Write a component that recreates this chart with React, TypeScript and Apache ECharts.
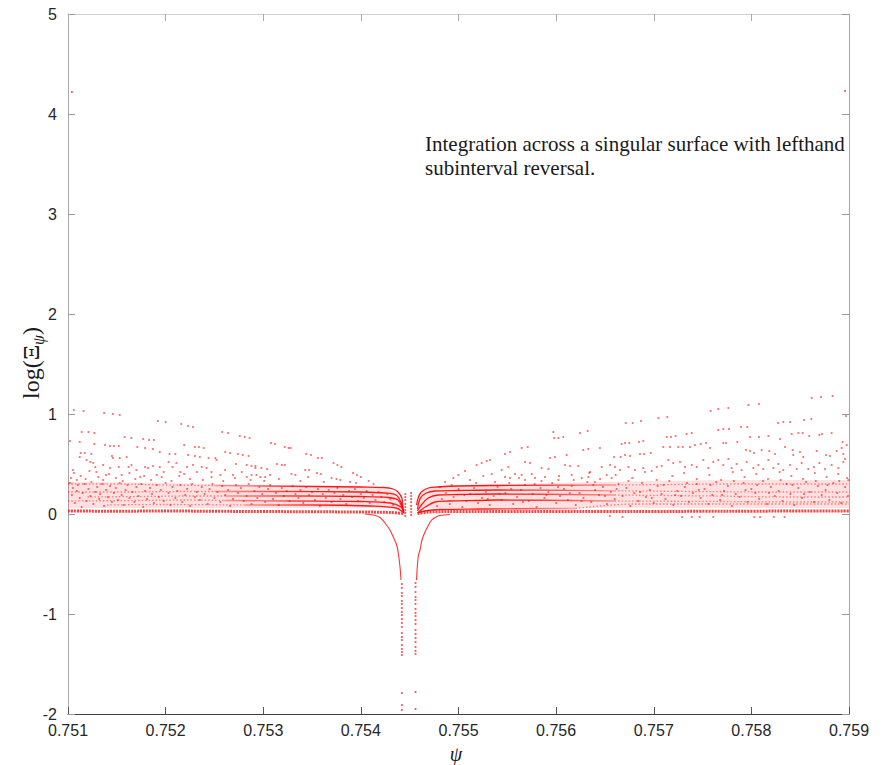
import React, { useEffect, useRef } from "react";
import * as echarts from "echarts";

const X_MIN = 0.751;
const X_MAX = 0.759;
const X_STEP = 0.001;
const Y_MIN = -2;
const Y_MAX = 5;
const Y_STEP = 1;

type P = [number, number];

// isolated high points
const highPoints: P[] = [[0.75104, 4.22], [0.75896, 4.23]];

// left sparse upper points (rays and scatter)
const leftUpper: P[] = [
  [0.75106, 1.04], [0.75116, 1.03], [0.75137, 1.01], [0.75146, 1.0], [0.75153, 0.99],
  [0.75192, 0.93], [0.752, 0.92], [0.75216, 0.9], [0.75223, 0.88], [0.75228, 0.87],
  [0.75258, 0.82], [0.75264, 0.81], [0.75276, 0.78], [0.75281, 0.77], [0.75286, 0.76],
  [0.75102, 0.73], [0.75114, 0.82], [0.75121, 0.82], [0.75127, 0.81], [0.75112, 0.72],
  [0.75127, 0.7], [0.75138, 0.69], [0.75143, 0.68], [0.75147, 0.68], [0.75152, 0.68],
  [0.75158, 0.77], [0.75165, 0.76], [0.75177, 0.75], [0.75183, 0.74], [0.75188, 0.74],
  [0.75171, 0.67], [0.75179, 0.66], [0.75187, 0.65], [0.75194, 0.62], [0.75204, 0.6],
  [0.7521, 0.6], [0.75219, 0.69], [0.7523, 0.67], [0.75234, 0.67], [0.75239, 0.66],
  [0.75223, 0.59], [0.7523, 0.58], [0.75235, 0.57], [0.75244, 0.56], [0.75251, 0.56],
  [0.75261, 0.62], [0.75266, 0.61], [0.75274, 0.6], [0.75279, 0.59], [0.75285, 0.58],
  [0.75272, 0.5], [0.75283, 0.49], [0.75288, 0.48],
  [0.75105, 0.44], [0.75112, 0.57], [0.75113, 0.61], [0.75117, 0.61], [0.75119, 0.54],
  [0.75123, 0.52], [0.75124, 0.6], [0.75126, 0.51], [0.75128, 0.47], [0.75129, 0.42],
  [0.75136, 0.49], [0.75139, 0.39], [0.75143, 0.46], [0.75145, 0.58], [0.75146, 0.56],
  [0.75152, 0.47], [0.75153, 0.56], [0.75155, 0.39], [0.7516, 0.57], [0.75162, 0.47],
  [0.75165, 0.49], [0.7517, 0.44], [0.75174, 0.37], [0.75179, 0.47], [0.75182, 0.46],
  [0.75187, 0.48], [0.75191, 0.39], [0.75194, 0.47], [0.75198, 0.42], [0.75203, 0.52],
  [0.75207, 0.47], [0.75211, 0.51], [0.75215, 0.42], [0.75219, 0.4], [0.75222, 0.47],
  [0.75228, 0.49], [0.75232, 0.42], [0.75237, 0.47], [0.75242, 0.46], [0.75247, 0.42],
  [0.75252, 0.54], [0.75256, 0.39], [0.75261, 0.44], [0.75269, 0.39], [0.75278, 0.42],
  [0.75283, 0.37], [0.75292, 0.46], [0.75293, 0.39],
  [0.75308, 0.71], [0.75312, 0.7], [0.75322, 0.67], [0.75326, 0.66], [0.75328, 0.66],
  [0.75344, 0.6], [0.75349, 0.59], [0.75356, 0.56], [0.7536, 0.56], [0.75372, 0.51],
  [0.75376, 0.49], [0.7538, 0.47], [0.75392, 0.41], [0.75396, 0.39], [0.754, 0.37],
  [0.75408, 0.33], [0.75413, 0.3],
  [0.75292, 0.48], [0.75298, 0.46], [0.75304, 0.45], [0.75314, 0.5], [0.75319, 0.49],
  [0.75322, 0.49], [0.75329, 0.4], [0.75333, 0.39], [0.75343, 0.44], [0.75347, 0.44],
  [0.75346, 0.37], [0.75355, 0.41], [0.75359, 0.4], [0.7537, 0.36], [0.75375, 0.35],
  [0.75379, 0.34], [0.75389, 0.32], [0.75395, 0.31], [0.75288, 0.39], [0.75297, 0.37],
  [0.75302, 0.37], [0.75307, 0.39],
  [0.75103, 0.36], [0.75106, 0.41], [0.75109, 0.34], [0.75113, 0.38], [0.75118, 0.35],
  [0.75122, 0.43], [0.75131, 0.37], [0.75136, 0.34], [0.75142, 0.4], [0.75149, 0.36],
  [0.75156, 0.33], [0.75163, 0.41], [0.75169, 0.35], [0.75178, 0.38], [0.75185, 0.34],
  [0.75196, 0.37], [0.75206, 0.33], [0.75214, 0.38], [0.75225, 0.35], [0.75238, 0.34],
  [0.75247, 0.37], [0.75259, 0.33], [0.75271, 0.36], [0.75287, 0.34], [0.75301, 0.33],
  [0.75316, 0.35], [0.75338, 0.33], [0.75362, 0.32],
];

// left dense band scatter
const leftBand: P[] = [
  [0.75102, 0.31], [0.75104, 0.19], [0.75105, 0.26], [0.75107, 0.11], [0.75109, 0.23], [0.7511, 0.29],
  [0.75112, 0.16], [0.75114, 0.07], [0.75115, 0.21], [0.75117, 0.3], [0.75119, 0.13], [0.75121, 0.25],
  [0.75123, 0.18], [0.75124, 0.32], [0.75126, 0.1], [0.75128, 0.22], [0.7513, 0.27], [0.75132, 0.15],
  [0.75133, 0.2], [0.75135, 0.3], [0.75137, 0.08], [0.75139, 0.24], [0.75141, 0.17], [0.75143, 0.28],
  [0.75145, 0.12], [0.75147, 0.21], [0.75149, 0.26], [0.75151, 0.14], [0.75153, 0.31], [0.75155, 0.19],
  [0.75157, 0.09], [0.75159, 0.24], [0.75161, 0.29], [0.75163, 0.16], [0.75166, 0.22], [0.75168, 0.12],
  [0.7517, 0.27], [0.75172, 0.18], [0.75175, 0.3], [0.75177, 0.07], [0.75179, 0.23], [0.75181, 0.15],
  [0.75184, 0.26], [0.75186, 0.2], [0.75188, 0.11], [0.75191, 0.29], [0.75193, 0.17], [0.75195, 0.24],
  [0.75198, 0.13], [0.752, 0.31], [0.75203, 0.21], [0.75205, 0.09], [0.75207, 0.27], [0.7521, 0.16],
  [0.75212, 0.23], [0.75215, 0.29], [0.75217, 0.12], [0.7522, 0.19], [0.75222, 0.25], [0.75225, 0.08],
  [0.75227, 0.3], [0.7523, 0.17], [0.75232, 0.22], [0.75235, 0.14], [0.75237, 0.27], [0.7524, 0.2],
  [0.75243, 0.1], [0.75245, 0.25], [0.75248, 0.3], [0.7525, 0.16], [0.75253, 0.22], [0.75256, 0.12],
  [0.75258, 0.28], [0.75261, 0.19], [0.75264, 0.24], [0.75266, 0.08], [0.75269, 0.15], [0.75272, 0.29],
  [0.75274, 0.21], [0.75277, 0.26], [0.7528, 0.13], [0.75283, 0.18], [0.75285, 0.3], [0.75288, 0.1],
  [0.75291, 0.23], [0.75294, 0.16], [0.75296, 0.27], [0.75299, 0.2], [0.75302, 0.12], [0.75305, 0.25],
  [0.75307, 0.29], [0.7531, 0.15], [0.75313, 0.21], [0.75316, 0.09], [0.75319, 0.26], [0.75321, 0.18],
  [0.75324, 0.23], [0.75327, 0.13], [0.7533, 0.28], [0.75333, 0.2], [0.75336, 0.16], [0.75338, 0.24],
  [0.75341, 0.11], [0.75344, 0.27], [0.75347, 0.19], [0.7535, 0.22], [0.75353, 0.14], [0.75356, 0.25],
  [0.75358, 0.08], [0.75361, 0.2], [0.75364, 0.16], [0.75367, 0.24], [0.7537, 0.12], [0.75373, 0.21],
  [0.75376, 0.26], [0.75379, 0.15], [0.75382, 0.19], [0.75385, 0.1], [0.75388, 0.23], [0.75391, 0.17],
  [0.75394, 0.25], [0.75397, 0.13], [0.754, 0.2], [0.75403, 0.16], [0.75406, 0.23], [0.75409, 0.11],
  [0.75412, 0.19], [0.75415, 0.14], [0.75418, 0.22], [0.75421, 0.17], [0.75424, 0.12], [0.75427, 0.2],
  [0.7543, 0.15], [0.75433, 0.09],
];

// right sparse upper points
const rightUpper: P[] = [
  [0.755971, 0.82], [0.756074, 0.77], [0.756023, 0.76], [0.75598, 0.76], [0.756245, 0.81], [0.756323, 0.83],
  [0.754862, 0.32], [0.754947, 0.36], [0.754998, 0.39], [0.755067, 0.43], [0.755186, 0.49], [0.755238, 0.51],
  [0.755289, 0.53], [0.755323, 0.54], [0.755476, 0.6], [0.755528, 0.62], [0.755647, 0.66], [0.755709, 0.67],
  [0.755118, 0.34], [0.755254, 0.38], [0.75534, 0.4], [0.755442, 0.44], [0.75551, 0.47], [0.755681, 0.52],
  [0.755733, 0.51], [0.755937, 0.56], [0.755988, 0.57], [0.756108, 0.59], [0.756278, 0.64], [0.75633, 0.65],
  [0.756449, 0.66], [0.755476, 0.37], [0.755579, 0.4], [0.755647, 0.39], [0.75575, 0.4], [0.755852, 0.46],
  [0.75592, 0.45], [0.756091, 0.49], [0.756142, 0.48], [0.756227, 0.48], [0.756347, 0.42],
  [0.755374, 0.32], [0.755528, 0.36], [0.755681, 0.34], [0.755784, 0.36], [0.755886, 0.37], [0.756023, 0.34],
  [0.75616, 0.39], [0.756262, 0.36], [0.75633, 0.37], [0.756398, 0.32], [0.756518, 0.39], [0.756569, 0.36],
  [0.756467, 0.47], [0.756552, 0.49],
  [0.756713, 0.91], [0.756784, 0.91], [0.756869, 0.93], [0.757047, 0.96], [0.757139, 0.97], [0.757583, 1.03],
  [0.757661, 1.05], [0.757764, 1.06], [0.757969, 1.09], [0.758078, 1.1], [0.758618, 1.16], [0.758713, 1.17],
  [0.758833, 1.18], [0.758969, 0.98], [0.758273, 0.91], [0.758327, 0.92], [0.758396, 0.92], [0.758539, 0.94],
  [0.758614, 0.95], [0.757661, 0.84], [0.757712, 0.85], [0.757771, 0.85], [0.757894, 0.87], [0.757958, 0.87],
  [0.756671, 0.7], [0.756706, 0.71], [0.75675, 0.71], [0.756849, 0.72], [0.756893, 0.73], [0.757132, 0.77],
  [0.757177, 0.77], [0.757224, 0.78], [0.757337, 0.8], [0.757389, 0.81], [0.757986, 0.77], [0.758078, 0.77],
  [0.758174, 0.78], [0.758293, 0.75], [0.758413, 0.8], [0.758481, 0.81], [0.758525, 0.81], [0.758593, 0.78],
  [0.758696, 0.79], [0.758723, 0.8], [0.758822, 0.81], [0.758935, 0.72], [0.758976, 0.69],
  [0.756593, 0.57], [0.756661, 0.57], [0.756706, 0.59], [0.756757, 0.58], [0.756859, 0.6], [0.7569, 0.6],
  [0.756969, 0.61], [0.757098, 0.67], [0.757166, 0.67], [0.757251, 0.67], [0.757297, 0.67], [0.757371, 0.67],
  [0.757422, 0.69], [0.757481, 0.7], [0.757535, 0.71], [0.757576, 0.66], [0.757712, 0.71], [0.75774, 0.71],
  [0.757856, 0.72], [0.757945, 0.64], [0.757986, 0.63], [0.758027, 0.61], [0.758105, 0.64], [0.758184, 0.63],
  [0.758242, 0.6], [0.758344, 0.67], [0.758423, 0.64], [0.758429, 0.59], [0.758498, 0.62], [0.758532, 0.57],
  [0.758669, 0.63], [0.758764, 0.59], [0.758805, 0.58], [0.758874, 0.63], [0.758925, 0.66], [0.758942, 0.6],
  [0.758959, 0.55], [0.758993, 0.34],
  [0.756603, 0.47], [0.756654, 0.44], [0.75674, 0.47], [0.756808, 0.44], [0.756893, 0.46], [0.756979, 0.43],
  [0.75703, 0.47], [0.757081, 0.48], [0.757149, 0.54], [0.7572, 0.51], [0.757269, 0.52], [0.75732, 0.47],
  [0.757389, 0.49], [0.75744, 0.47], [0.757508, 0.54], [0.757559, 0.46], [0.75761, 0.52], [0.757661, 0.54],
  [0.757712, 0.49], [0.757764, 0.55], [0.757798, 0.46], [0.757849, 0.5], [0.7579, 0.44], [0.757952, 0.52],
  [0.75802, 0.46], [0.758071, 0.49], [0.758122, 0.45], [0.758174, 0.54], [0.758225, 0.46], [0.758276, 0.5],
  [0.758327, 0.44], [0.758396, 0.49], [0.758464, 0.45], [0.758515, 0.51], [0.758583, 0.45], [0.758641, 0.47],
  [0.758696, 0.51], [0.758754, 0.45], [0.758822, 0.49], [0.758891, 0.46], [0.758942, 0.52],
  [0.75562, 0.36], [0.75585, 0.33], [0.75603, 0.38], [0.75618, 0.34], [0.75634, 0.41], [0.75645, 0.35],
  [0.75661, 0.39], [0.75678, 0.36], [0.75691, 0.42], [0.75703, 0.34], [0.75719, 0.38], [0.75731, 0.41],
  [0.75744, 0.35], [0.75757, 0.39], [0.75769, 0.34], [0.75781, 0.42], [0.75793, 0.37], [0.75805, 0.4],
  [0.75817, 0.35], [0.75829, 0.42], [0.75841, 0.38], [0.75853, 0.35], [0.75865, 0.41], [0.75877, 0.37],
  [0.75889, 0.4], [0.75898, 0.36],
];

// right dense band scatter
const rightBand: P[] = [
  [0.75478, 0.08], [0.75483, 0.15], [0.75487, 0.21], [0.75491, 0.1], [0.75495, 0.17], [0.755, 0.25],
  [0.75504, 0.07], [0.75508, 0.13], [0.75512, 0.2], [0.75516, 0.26], [0.7552, 0.11], [0.75524, 0.16],
  [0.75528, 0.22], [0.75532, 0.09], [0.75536, 0.18], [0.7554, 0.27], [0.75544, 0.14], [0.75548, 0.21],
  [0.75552, 0.31], [0.75556, 0.1], [0.7556, 0.17], [0.75564, 0.24], [0.75568, 0.29], [0.75572, 0.13],
  [0.75576, 0.2], [0.7558, 0.07], [0.75584, 0.26], [0.75588, 0.16], [0.75592, 0.22], [0.75596, 0.31],
  [0.756, 0.11], [0.75604, 0.18], [0.75608, 0.25], [0.75612, 0.14], [0.75616, 0.28], [0.7562, 0.09],
  [0.75624, 0.21], [0.75628, 0.16], [0.75632, 0.32], [0.75636, 0.12], [0.7564, 0.24], [0.75644, 0.19],
  [0.75648, 0.27], [0.75652, 0.1], [0.75656, 0.22], [0.7566, 0.15], [0.75664, 0.3], [0.75668, 0.18],
  [0.75672, 0.26], [0.75676, 0.08], [0.7568, 0.21], [0.75684, 0.13], [0.75688, 0.31], [0.75692, 0.17],
  [0.75696, 0.24], [0.757, 0.11], [0.75704, 0.28], [0.75708, 0.2], [0.75712, 0.15], [0.75716, 0.33],
  [0.7572, 0.09], [0.75724, 0.23], [0.75728, 0.18], [0.75732, 0.27], [0.75736, 0.12], [0.7574, 0.21],
  [0.75744, 0.3], [0.75748, 0.16], [0.75752, 0.25], [0.75756, 0.1], [0.7576, 0.19], [0.75764, 0.32],
  [0.75768, 0.14], [0.75772, 0.23], [0.75776, 0.28], [0.7578, 0.08], [0.75784, 0.2], [0.75788, 0.17],
  [0.75792, 0.31], [0.75796, 0.12], [0.758, 0.25], [0.75804, 0.21], [0.75808, 0.15], [0.75812, 0.33],
  [0.75816, 0.1], [0.7582, 0.27], [0.75824, 0.18], [0.75828, 0.23], [0.75832, 0.13], [0.75836, 0.3],
  [0.7584, 0.2], [0.75844, 0.09], [0.75848, 0.26], [0.75852, 0.16], [0.75856, 0.32], [0.7586, 0.22],
  [0.75864, 0.12], [0.75868, 0.28], [0.75872, 0.19], [0.75876, 0.24], [0.7588, 0.14], [0.75884, 0.31],
  [0.75888, 0.21], [0.75892, 0.11], [0.75896, 0.27], [0.75899, 0.18],
  [0.75481, 0.27], [0.75493, 0.29], [0.75506, 0.19], [0.75518, 0.31], [0.7553, 0.15], [0.75542, 0.2],
  [0.75554, 0.25], [0.75566, 0.12], [0.75578, 0.3], [0.7559, 0.19], [0.75602, 0.27], [0.75614, 0.21],
  [0.75626, 0.13], [0.75638, 0.29], [0.7565, 0.18], [0.75662, 0.25], [0.75674, 0.33], [0.75686, 0.22],
  [0.75698, 0.16], [0.7571, 0.29], [0.75722, 0.19], [0.75734, 0.31], [0.75746, 0.24], [0.75758, 0.29],
  [0.7577, 0.19], [0.75782, 0.33], [0.75794, 0.24], [0.75806, 0.29], [0.75818, 0.21], [0.7583, 0.34],
  [0.75842, 0.29], [0.75854, 0.2], [0.75866, 0.33], [0.75878, 0.29], [0.7589, 0.33],
  [0.75655, -0.02], [0.75668, -0.03], [0.75729, -0.03], [0.75739, -0.03], [0.75747, -0.03],
  [0.75761, -0.03], [0.75803, -0.03], [0.75809, -0.03], [0.75823, -0.03], [0.75834, -0.03],
];

// dotted columns near the singular surface
const columnLeft: P[] = [
  [0.75442, -0.7], [0.75442, -0.74], [0.75442, -0.79], [0.75442, -0.82], [0.75442, -0.87], [0.75442, -0.9],
  [0.75442, -0.94], [0.75442, -0.98], [0.75442, -1.01], [0.75442, -1.05], [0.75442, -1.09], [0.75442, -1.13],
  [0.75442, -1.19], [0.75442, -1.23], [0.75442, -1.26], [0.75442, -1.31], [0.75442, -1.35], [0.75442, -1.38],
  [0.75442, -1.41], [0.75442, -1.79], [0.75442, -1.91], [0.75442, -1.96],
];
const columnRight: P[] = [
  [0.75456, -0.69], [0.75456, -0.73], [0.75456, -0.78], [0.75456, -0.83], [0.75456, -0.86], [0.75456, -0.9],
  [0.75456, -0.95], [0.75456, -0.99], [0.75456, -1.02], [0.75456, -1.06], [0.75456, -1.1], [0.75456, -1.16],
  [0.75456, -1.2], [0.75456, -1.24], [0.75456, -1.28], [0.75456, -1.33], [0.75456, -1.37], [0.75456, -1.4],
  [0.75456, -1.78], [0.75456, -1.95],
];
const columnsInner: P[] = [
  [0.754455, 0.2], [0.754455, 0.17], [0.754455, 0.14], [0.754455, 0.1], [0.754455, 0.07], [0.754455, 0.04],
  [0.754455, 0.01], [0.754455, -0.02], [0.754515, 0.21], [0.754515, 0.18], [0.754515, 0.15], [0.754515, 0.12],
  [0.754515, 0.08], [0.754515, 0.05], [0.754515, 0.02], [0.754515, -0.01],
];

// dense curves (fans)
const fanLeft: P[][] = [
  [[0.7525, 0.285], [0.753, 0.28], [0.7535, 0.275], [0.754, 0.27], [0.75423, 0.265], [0.75433, 0.25], [0.75438, 0.22], [0.75442, 0.16], [0.75443, 0.07], [0.75444, 0.01]],
  [[0.7525, 0.225], [0.7532, 0.225], [0.754, 0.22], [0.75425, 0.21], [0.75436, 0.19], [0.75441, 0.12], [0.75443, 0.04]],
  [[0.7526, 0.18], [0.7533, 0.18], [0.754, 0.175], [0.75428, 0.165], [0.75438, 0.14], [0.75442, 0.07], [0.75444, 0.01]],
  [[0.7526, 0.135], [0.7533, 0.13], [0.754, 0.125], [0.7543, 0.11], [0.75441, 0.07], [0.75444, 0.02]],
  [[0.7528, 0.09], [0.7535, 0.09], [0.7541, 0.08], [0.75436, 0.06], [0.75443, 0.02]],
];
const fanRight: P[][] = [
  [[0.75457, 0.09], [0.75459, 0.17], [0.75462, 0.22], [0.75469, 0.26], [0.75479, 0.27], [0.755, 0.28], [0.7554, 0.285], [0.7566, 0.29]],
  [[0.75458, 0.05], [0.75461, 0.16], [0.75467, 0.21], [0.75476, 0.23], [0.755, 0.235], [0.7554, 0.24], [0.7566, 0.232]],
  [[0.75458, 0.03], [0.75462, 0.09], [0.75469, 0.16], [0.75479, 0.19], [0.755, 0.195], [0.7554, 0.2], [0.7566, 0.19]],
  [[0.75459, 0.02], [0.75466, 0.07], [0.75476, 0.12], [0.7549, 0.13], [0.7552, 0.135], [0.7554, 0.14], [0.7566, 0.13]],
  [[0.75458, 0.01], [0.75465, 0.03], [0.7548, 0.045], [0.7552, 0.05], [0.7562, 0.055]],
];

// dotted rows
const rowsLeft: P[][] = [
  [[0.751, 0.3], [0.7515, 0.3], [0.752, 0.29], [0.7525, 0.285]],
  [[0.751, 0.22], [0.7516, 0.22], [0.7522, 0.225], [0.7525, 0.225]],
  [[0.7512, 0.17], [0.7518, 0.175], [0.7522, 0.18], [0.7526, 0.18]],
  [[0.751, 0.13], [0.7517, 0.135], [0.7522, 0.14], [0.7526, 0.135]],
  [[0.7514, 0.09], [0.752, 0.095], [0.7528, 0.09]],
];
const rowsRight: P[][] = [
  [[0.7566, 0.29], [0.7572, 0.295], [0.7578, 0.3], [0.7584, 0.3], [0.759, 0.3]],
  [[0.7566, 0.232], [0.7574, 0.225], [0.7582, 0.22], [0.759, 0.22]],
  [[0.7566, 0.19], [0.7576, 0.18], [0.7584, 0.17], [0.759, 0.17]],
  [[0.7566, 0.13], [0.7577, 0.125], [0.7585, 0.12], [0.759, 0.12]],
  [[0.7562, 0.055], [0.7568, 0.1], [0.7578, 0.1], [0.759, 0.1]],
];

// floor band
const floorLeft: P[] = [
  [0.751, 0.03], [0.7515, 0.028], [0.752, 0.03], [0.7525, 0.027], [0.753, 0.025], [0.7535, 0.022], [0.754, 0.02], [0.7543, 0.015], [0.75444, 0.005],
];
const floorRight: P[] = [
  [0.75458, 0.005], [0.7547, 0.02], [0.755, 0.025], [0.7555, 0.025], [0.756, 0.025], [0.7565, 0.025], [0.757, 0.025], [0.7575, 0.027], [0.758, 0.028], [0.7585, 0.03], [0.759, 0.03],
];

// dip curves toward the singular surface
const dipLeft: P[] = [
  [0.75404, 0.0], [0.754127, -0.01], [0.754196, -0.035], [0.754247, -0.09], [0.754298, -0.16], [0.754332, -0.23], [0.754367, -0.31], [0.754383, -0.39], [0.754401, -0.53], [0.754411, -0.66],
];
const dipRight: P[] = [
  [0.754913, -0.005], [0.75481, -0.015], [0.75477, -0.03], [0.754725, -0.06], [0.754688, -0.12], [0.754657, -0.18], [0.754626, -0.26], [0.754606, -0.36], [0.75459, -0.41], [0.754578, -0.53], [0.75457, -0.66],
];

// upper edge of dense band (for a faint fill)
const bandEdgeLeft: P[] = [
  [0.751, 0.32], [0.752, 0.31], [0.753, 0.29], [0.7538, 0.28], [0.7542, 0.26], [0.75436, 0.21], [0.75442, 0.12], [0.75444, 0.06],
];
const bandEdgeRight: P[] = [
  [0.75458, 0.06], [0.75459, 0.16], [0.75466, 0.24], [0.7548, 0.28], [0.756, 0.31], [0.757, 0.33], [0.758, 0.34], [0.759, 0.34],
];

const RED = "rgba(255,0,0,0.8)";
const RED_LIGHT = "rgba(255,0,0,0.68)";

function scatter(data: P[], color = RED, size = 2.2) {
  return {
    type: "scatter",
    data,
    symbol: "circle",
    symbolSize: size,
    itemStyle: { color },
    silent: true,
    z: 3,
  };
}

function curve(data: P[], width: number, color: any, dash?: number[]) {
  return {
    type: "line",
    data,
    showSymbol: false,
    smooth: 0.35,
    lineStyle: { width, color, type: dash ? dash : "solid" },
    silent: true,
    z: 2,
  };
}

function fade(leftToRight: boolean) {
  const faint = "rgba(255,0,0,0.35)";
  const strong = "rgba(255,0,0,0.9)";
  return {
    type: "linear",
    x: 0,
    y: 0,
    x2: 1,
    y2: 0,
    colorStops: leftToRight
      ? [{ offset: 0, color: faint }, { offset: 0.55, color: strong }, { offset: 1, color: strong }]
      : [{ offset: 0, color: strong }, { offset: 0.45, color: strong }, { offset: 1, color: faint }],
  };
}

function area(data: P[]) {
  return {
    type: "line",
    data,
    showSymbol: false,
    smooth: 0.3,
    lineStyle: { width: 0 },
    areaStyle: { color: "rgba(255,0,0,0.17)", origin: 0.06 },
    silent: true,
    z: 1,
  };
}

const AXIS_DARK = "#404040";
const AXIS_LIGHT = "#a8a8a8";

export default function App() {
  const ref = useRef<HTMLDivElement>(null);
  useEffect(() => {
    const chart = echarts.init(ref.current!, null, { renderer: "svg" });
    const labelStyle = { color: "#262626", fontSize: 16, fontFamily: "Liberation Sans, Arial, sans-serif" };
    const option: any = {
      animation: false,
      backgroundColor: "#ffffff",
      grid: { left: 68, right: 33, top: 14, bottom: 51, containLabel: false },
      xAxis: [
        {
          type: "value",
          min: X_MIN,
          max: X_MAX,
          interval: X_STEP,
          splitLine: { show: false },
          axisLine: { show: true, onZero: false, lineStyle: { color: AXIS_DARK, width: 1 } },
          axisTick: { show: true, inside: true, length: 7, lineStyle: { color: "#555" } },
          axisLabel: { ...labelStyle, margin: 8, formatter: (v: number) => v.toFixed(3) },
        },
        {
          type: "value",
          position: "top",
          min: X_MIN,
          max: X_MAX,
          interval: X_STEP,
          splitLine: { show: false },
          axisLine: { show: true, onZero: false, lineStyle: { color: "#cfcfcf", width: 1 } },
          axisTick: { show: true, inside: true, length: 7, lineStyle: { color: "#aaa" } },
          axisLabel: { show: false },
        },
      ],
      yAxis: [
        {
          type: "value",
          min: Y_MIN,
          max: Y_MAX,
          interval: Y_STEP,
          splitLine: { show: false },
          axisLine: { show: true, onZero: false, lineStyle: { color: AXIS_LIGHT, width: 1 } },
          axisTick: { show: true, inside: true, length: 7, lineStyle: { color: "#999" } },
          axisLabel: { ...labelStyle, margin: 11 },
        },
        {
          type: "value",
          position: "right",
          min: Y_MIN,
          max: Y_MAX,
          interval: Y_STEP,
          splitLine: { show: false },
          axisLine: { show: true, onZero: false, lineStyle: { color: AXIS_LIGHT, width: 1 } },
          axisTick: { show: true, inside: true, length: 7, lineStyle: { color: "#999" } },
          axisLabel: { show: false },
        },
      ],
      series: [
        area(bandEdgeLeft),
        area(bandEdgeRight),
        ...rowsLeft.map((r) => curve(r, 1.3, "rgba(255,0,0,0.45)", [1.5, 2])),
        ...rowsRight.map((r) => curve(r, 1.3, "rgba(255,0,0,0.45)", [1.5, 2])),
        ...fanLeft.map((r) => curve(r, 1.3, fade(true))),
        ...fanRight.map((r) => curve(r, 1.3, fade(false))),
        curve(floorLeft, 3, "rgba(255,0,0,0.75)", [2, 1]),
        curve(floorRight, 3, "rgba(255,0,0,0.75)", [2, 1]),
        curve(dipLeft, 1.1, "rgba(255,0,0,0.8)"),
        curve(dipRight, 1.1, "rgba(255,0,0,0.8)"),
        scatter(leftBand, RED_LIGHT),
        scatter(rightBand, RED_LIGHT),
        scatter(leftUpper, RED_LIGHT),
        scatter(rightUpper, RED_LIGHT),
        scatter(columnLeft, RED),
        scatter(columnRight, RED),
        scatter(columnsInner, RED),
        scatter(highPoints, RED),
      ],
      graphic: [
        {
          type: "text",
          x: 425,
          y: 132,
          style: {
            text: "Integration across a singular surface with lefthand\nsubinterval reversal.",
            font: '21px "Liberation Serif", serif',
            fill: "#1a1a1a",
            lineHeight: 24,
            textVerticalAlign: "top",
          },
          silent: true,
        },
        {
          type: "text",
          x: 31,
          y: 363,
          rotation: Math.PI / 2,
          style: {
            text: "{a|log(Ξ}{s|ψ}{a|)}",
            align: "center",
            verticalAlign: "middle",
            rich: {
              a: { fontSize: 24, fontFamily: '"Liberation Serif", serif', fill: "#1a1a1a", lineHeight: 30 },
              s: { fontSize: 16, fontStyle: "italic", fontFamily: '"Liberation Serif", serif', fill: "#1a1a1a", lineHeight: 30, verticalAlign: "bottom", padding: [12, 0, 0, 0] },
            },
          },
          silent: true,
        },
        {
          type: "text",
          x: 456,
          y: 744,
          style: {
            text: "ψ",
            font: 'italic 20px "Liberation Serif", serif',
            fill: "#1a1a1a",
            align: "center",
            verticalAlign: "top",
          },
          silent: true,
        },
      ],
    };
    chart.setOption(option);
    return () => chart.dispose();
  }, []);
  return <div ref={ref} style={{ position: "absolute", left: 0, top: 0, width: 882, height: 765 }} />;
}
